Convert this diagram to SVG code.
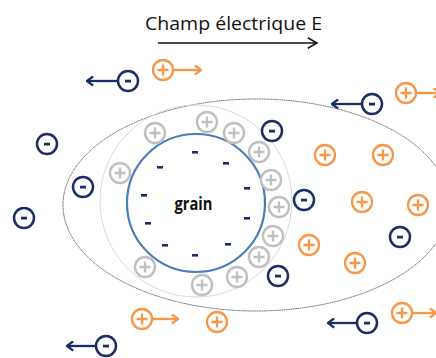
<svg xmlns="http://www.w3.org/2000/svg" width="436" height="358" viewBox="0 0 436 358">
<style>
.negc{fill:#fff;stroke:#172f66;stroke-width:2.5}
.negd{fill:#172f66}
.posc{fill:#fff;stroke:#f79646;stroke-width:2.3}
.posp{stroke:#f79646;stroke-width:2.3;fill:none}
.ionc{fill:#fff;stroke:#c0c0c0;stroke-width:2.4}
.ionp{stroke:#c0c0c0;stroke-width:2.3;fill:none}
.dash{fill:#172f66}
.an{stroke:#172f66;stroke-width:2.3;fill:none;marker-end:url(#mn)}
.ap{stroke:#f79646;stroke-width:2.3;fill:none;marker-end:url(#mp)}
</style>
<defs>
<marker id="mn" viewBox="0 0 8 11" refX="7" refY="5.5" markerWidth="8" markerHeight="11" markerUnits="userSpaceOnUse" orient="auto"><path d="M0.8,0.8 L7,5.5 L0.8,10.2" fill="none" stroke="#172f66" stroke-width="2.3"/></marker>
<marker id="mp" viewBox="0 0 8 11" refX="7" refY="5.5" markerWidth="8" markerHeight="11" markerUnits="userSpaceOnUse" orient="auto"><path d="M0.8,0.8 L7,5.5 L0.8,10.2" fill="none" stroke="#f79646" stroke-width="2.3"/></marker>
<marker id="mk" viewBox="0 0 11 12" refX="10" refY="6" markerWidth="11" markerHeight="12" markerUnits="userSpaceOnUse" orient="auto"><path d="M0.8,0.8 L10,6 L0.8,11.2" fill="none" stroke="#111" stroke-width="1.6"/></marker>
<g id="gneg"><circle class="negc" r="10"/><rect class="negd" x="-3" y="-1.3" width="6" height="2.8"/></g>
<g id="gpos"><circle class="posc" r="10"/><path class="posp" d="M-5.5,0H5.5M0,-5.5V5.5"/></g>
<g id="gion"><circle class="ionc" r="10"/><path class="ionp" d="M-5.5,0H5.5M0,-5.5V5.5"/></g>
</defs>
<rect width="436" height="358" fill="#fff"/>

<g id="title">
<text x="145" y="30" font-family="'Open Sans','Liberation Sans',sans-serif" font-size="18" fill="#111" textLength="177" lengthAdjust="spacingAndGlyphs">Champ électrique  E</text>
</g>

<g id="connectors">
<line x1="158" y1="43" x2="317" y2="43" stroke="#111" stroke-width="1.6" marker-end="url(#mk)"/>
<line class="an" x1="117" y1="81" x2="87" y2="81"/>
<line class="an" x1="361" y1="104" x2="332" y2="104"/>
<line class="an" x1="356" y1="323" x2="328" y2="323"/>
<line class="an" x1="95" y1="346" x2="67" y2="346"/>
<line class="ap" x1="174" y1="70" x2="201" y2="70"/>
<line class="ap" x1="417" y1="93" x2="440" y2="93"/>
<line class="ap" x1="153" y1="319" x2="178" y2="319"/>
<line class="ap" x1="413" y1="313" x2="436" y2="313"/>
</g>

<g id="region">
<ellipse cx="256" cy="205" rx="193" ry="106" fill="none" stroke="#444" stroke-width="0.9" stroke-dasharray="1.2 0.6"/>
<circle cx="196" cy="201" r="96" fill="none" stroke="#d9d9d9" stroke-width="1"/>
</g>

<g id="grain">
<circle cx="196" cy="203" r="69" fill="#fff" stroke="#4a7ebb" stroke-width="2.2"/>
<text x="193.5" y="210" text-anchor="middle" font-family="'Open Sans','Liberation Sans',sans-serif" font-weight="bold" font-size="17" fill="#111" textLength="38" lengthAdjust="spacingAndGlyphs">grain</text>
<g class="dash">
<rect x="192" y="151" width="6" height="2.6"/>
<rect x="223" y="162" width="6" height="2.6"/>
<rect x="157" y="166" width="6" height="2.6"/>
<rect x="244" y="187" width="6" height="2.6"/>
<rect x="141" y="194" width="6" height="2.6"/>
<rect x="244" y="217" width="6" height="2.6"/>
<rect x="145" y="222" width="6" height="2.6"/>
<rect x="225" y="243" width="6" height="2.6"/>
<rect x="162" y="244" width="6" height="2.6"/>
<rect x="192" y="254" width="6" height="2.6"/>
</g>
</g>

<g id="adsorbed-ions">
<use href="#gion" x="207" y="122"/>
<use href="#gion" x="155" y="133"/>
<use href="#gion" x="234" y="133"/>
<use href="#gion" x="259" y="152"/>
<use href="#gion" x="120" y="173"/>
<use href="#gion" x="271" y="180"/>
<use href="#gion" x="279" y="207"/>
<use href="#gion" x="273" y="236"/>
<use href="#gion" x="259" y="257"/>
<use href="#gion" x="237" y="277"/>
<use href="#gion" x="145" y="267"/>
<use href="#gion" x="202" y="285"/>
</g>

<g id="anions">
<use id="n1" href="#gneg" x="47" y="144"/>
<use id="n2" href="#gneg" x="83" y="187"/>
<use id="n3" href="#gneg" x="24" y="218"/>
<use id="n4" href="#gneg" x="272" y="131"/>
<use id="n5" href="#gneg" x="304" y="200"/>
<use id="n6" href="#gneg" x="278" y="276"/>
<use id="n7" href="#gneg" x="400" y="237"/>
<use id="a1" href="#gneg" x="128" y="81"/>
<use id="a2" href="#gneg" x="372" y="104"/>
<use id="a3" href="#gneg" x="367" y="323"/>
<use id="a4" href="#gneg" x="106" y="346"/>
</g>

<g id="cations">
<use id="o1" href="#gpos" x="325" y="155"/>
<use id="o2" href="#gpos" x="383" y="155"/>
<use id="o3" href="#gpos" x="362" y="202"/>
<use id="o4" href="#gpos" x="418" y="205"/>
<use id="o5" href="#gpos" x="309" y="245"/>
<use id="o6" href="#gpos" x="355" y="263"/>
<use id="o7" href="#gpos" x="217" y="322"/>
<use id="b1" href="#gpos" x="163" y="70"/>
<use id="b2" href="#gpos" x="406" y="93"/>
<use id="b3" href="#gpos" x="142" y="319"/>
<use id="b4" href="#gpos" x="402" y="313"/>
</g>
</svg>
